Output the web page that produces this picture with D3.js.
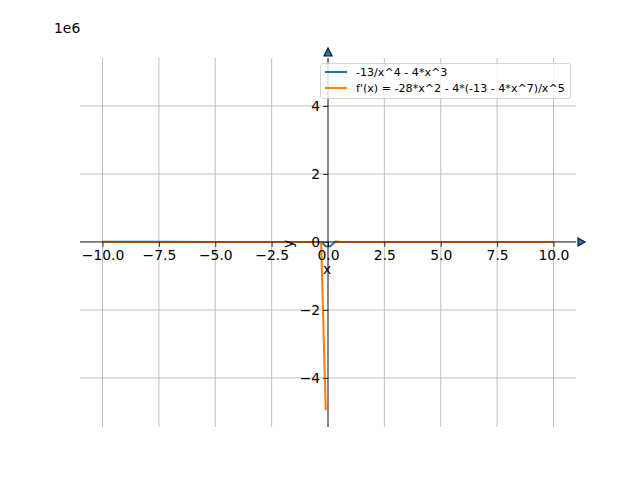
<!DOCTYPE html>
<html>
<head>
<meta charset="utf-8">
<script src="https://cdn.jsdelivr.net/npm/d3@7"></script>
<style>
  html, body { margin: 0; padding: 0; background: #ffffff; }
  svg { display: block; font-family: "DejaVu Sans", sans-serif; }
</style>
</head>
<body>
<svg id="chart" width="640" height="480"></svg>
<script>
// ---- data ----
const xValues = [-10, -7.5, -5, -2.5, -1, -0.5, -0.303, -0.101, 0.101, 0.303, 0.5, 1, 2.5, 5, 7.5, 10];
const fValues = [4000, 1690, 500, 62, -9, -210, -1610, -124900, -124900, -1600, -210, -17, -62, -500, -1690, -4000];
// the derivative is not drawn between x = -0.101 and x = 0.303 (gap = null)
const dfValues = [-1200, -675, -300, -75, -64, -1670, -20400, -4948000, null, 20400, 1660, 40, -75, -300, -675, -1200];
const seriesNames = ["-13/x^4 - 4*x^3", "f'(x) = -28*x^2 - 4*(-13 - 4*x^7)/x^5"];
const xTicks = [-10, -7.5, -5, -2.5, 0, 2.5, 5, 7.5, 10];
const xTickLabels = ["\u221210.0", "\u22127.5", "\u22125.0", "\u22122.5", "0.0", "2.5", "5.0", "7.5", "10.0"];
const yTicks = [-4e6, -2e6, 0, 2e6, 4e6];
const yTickLabels = ["\u22124", "\u22122", "0", "2", "4"];
const offsetLabel = "1e6";
const colors = ["#1f77b4", "#ff7f0e"];

// ---- layout ----
const svg = d3.select("#chart");
const L = 80, R = 576, T = 58, B = 427;
const x = d3.scaleLinear().domain([-11, 11]).range([L, R]);
const y = d3.scaleLinear().domain([-5.443e6, 5.41e6]).range([B, T]);

svg.append("defs").append("clipPath").attr("id", "clip")
  .append("rect").attr("x", L).attr("y", T).attr("width", R - L).attr("height", B - T);

// grid
const grid = svg.append("g");
grid.selectAll("line.gx").data(xTicks).enter().append("line")
  .attr("x1", d => x(d)).attr("x2", d => x(d)).attr("y1", T).attr("y2", B)
  .attr("stroke", "#b0b0b0").attr("stroke-width", 0.8);
grid.selectAll("line.gy").data(yTicks).enter().append("line")
  .attr("y1", d => y(d)).attr("y2", d => y(d)).attr("x1", L).attr("x2", R)
  .attr("stroke", "#b0b0b0").attr("stroke-width", 0.8);

// series
const series = [fValues, dfValues];
const line = d3.line().defined(d => d[1] !== null).x(d => x(d[0])).y(d => y(d[1]));
const gl = svg.append("g").attr("clip-path", "url(#clip)");
series.forEach((vals, i) => {
  gl.append("path")
    .datum(xValues.map((xv, j) => [xv, vals[j]]))
    .attr("d", line).attr("fill", "none")
    .attr("stroke", colors[i]).attr("stroke-width", 2.08)
    .attr("stroke-linejoin", "round").attr("stroke-linecap", "butt");
});

// spines through zero using d3 axes
const x0 = x(0), y0 = y(0);
const xAxis = d3.axisBottom(x).tickValues(xTicks).tickFormat((d, i) => xTickLabels[i])
  .tickSizeInner(4.9).tickSizeOuter(0).tickPadding(3);
const yAxis = d3.axisLeft(y).tickValues(yTicks).tickFormat((d, i) => yTickLabels[i])
  .tickSizeInner(4.9).tickSizeOuter(0).tickPadding(3);

const gx = svg.append("g").attr("transform", `translate(0,${y0})`).call(xAxis);
const gy = svg.append("g").attr("transform", `translate(${x0},0)`).call(yAxis);
[gx, gy].forEach(g => {
  g.select(".domain").remove();
  g.selectAll(".tick line").attr("stroke", "#000").attr("stroke-width", 0.8);
  g.selectAll(".tick text").attr("fill", "#000")
    .style("font-family", "DejaVu Sans").style("font-size", "13.9px");
});
// spine lines
svg.append("line").attr("x1", L).attr("x2", R).attr("y1", y0).attr("y2", y0)
  .attr("stroke", "#000").attr("stroke-width", 0.8);
svg.append("line").attr("x1", x0).attr("x2", x0).attr("y1", T).attr("y2", B)
  .attr("stroke", "#000").attr("stroke-width", 0.8);

// arrows
svg.append("path")
  .attr("d", `M${R + 2},${y0 - 4} L${R + 9},${y0} L${R + 2},${y0 + 4} Z`)
  .attr("fill", colors[0]).attr("stroke", "#0b1a2a").attr("stroke-width", 1.2);
svg.append("path")
  .attr("d", `M${x0 - 4},${T - 2} L${x0},${T - 10} L${x0 + 4},${T - 2} Z`)
  .attr("fill", colors[0]).attr("stroke", "#0b1a2a").attr("stroke-width", 1.2);

// axis labels
svg.append("text").attr("x", x0 - 1).attr("y", 274).attr("text-anchor", "middle")
  .style("font-size", "13.9px").text("x");
svg.append("text").attr("transform", `translate(${293},${244}) rotate(-90)`)
  .attr("text-anchor", "middle").style("font-size", "13.9px").text("y");

// offset text
svg.append("text").attr("x", 54).attr("y", 33).style("font-size", "13.9px").text(offsetLabel);

// legend
const lg = svg.append("g");
lg.append("rect").attr("x", 320.5).attr("y", 63.5).attr("width", 250).attr("height", 35)
  .attr("rx", 2.5).attr("fill", "#ffffff").attr("fill-opacity", 0.8)
  .attr("stroke", "#cccccc").attr("stroke-width", 0.8);
seriesNames.forEach((name, i) => {
  const cy = 72 + i * 16;
  lg.append("line").attr("x1", 325).attr("x2", 347).attr("y1", cy).attr("y2", cy)
    .attr("stroke", colors[i]).attr("stroke-width", 2.08);
  lg.append("text").attr("x", 356).attr("y", cy + 4).style("font-size", "11.1px").text(name);
});
</script>
</body>
</html>
